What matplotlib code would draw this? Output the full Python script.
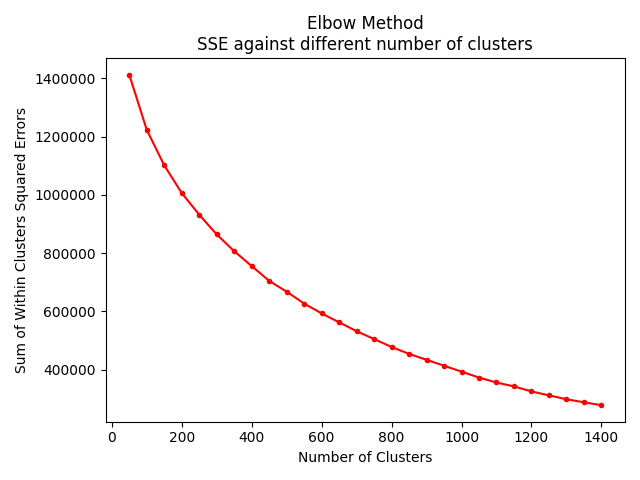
import matplotlib
matplotlib.use("Agg")
import matplotlib.pyplot as plt

clusters = list(range(50, 1401, 50))
sse = [1413000, 1223700, 1101700, 1006800, 932200, 864400, 806800, 755900,
       705100, 667800, 627100, 593200, 562700, 532200, 505100, 478000,
       454200, 433900, 413600, 393200, 372900, 356000, 342400, 325400,
       311900, 298300, 288100, 278000]

fig, ax = plt.subplots(figsize=(6.4, 4.8), dpi=100)
ax.plot(clusters, sse, 'r.-')
ax.ticklabel_format(axis='y', style='plain', useOffset=False)
ax.set_xlabel('Number of Clusters')
ax.set_ylabel('Sum of Within Clusters Squared Errors')
ax.set_title('Elbow Method\nSSE against different number of clusters')
fig.tight_layout()
fig.savefig('out.png')
